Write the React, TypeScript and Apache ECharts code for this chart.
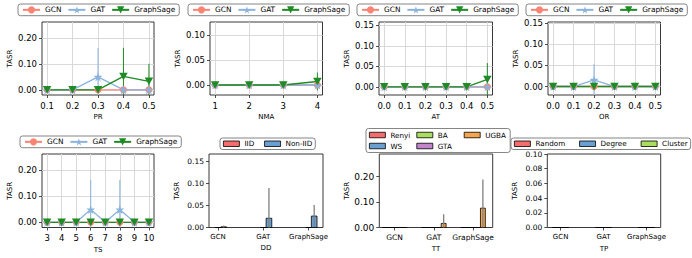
import { useEffect, useRef } from 'react';
import * as echarts from 'echarts';

const FONT = 'DejaVu Sans';
const MODELS = ['GCN', 'GAT', 'GraphSage'];

// ---- line panels data ----
const prX = [0.1, 0.2, 0.3, 0.4, 0.5];
const prGCN = [0, 0, 0, 0, 0];
const prGAT = [0, 0, 0.05, 0, 0];
const prSage = [0, 0, 0, 0.052, 0.033];
const prGCNErr = [0, 0, 0, 0, 0];
const prGATErr = [0, 0, 0.112, 0, 0];
const prSageErr = [0, 0, 0, 0.111, 0.068];
const prYTicks = [0, 0.1, 0.2];

const nmaX = [1, 2, 3, 4];
const nmaGCN = [0, 0, 0, 0];
const nmaGAT = [0, 0, 0, 0];
const nmaSage = [0, 0, 0, 0.007];
const nmaGCNErr = [0, 0, 0, 0];
const nmaGATErr = [0, 0, 0, 0];
const nmaSageErr = [0, 0, 0, 0.018];
const nmaYTicks = [0, 0.05, 0.1];

const atX = [0, 0.1, 0.2, 0.3, 0.4, 0.5];
const atGCN = [0, 0, 0, 0, 0, 0];
const atGAT = [0, 0, 0, 0, 0, 0];
const atSage = [0, 0, 0, 0, 0, 0.018];
const atGCNErr = [0, 0, 0, 0, 0, 0];
const atGATErr = [0, 0, 0, 0, 0, 0];
const atSageErr = [0, 0, 0, 0, 0, 0.04];
const atYTicks = [0, 0.05, 0.1, 0.15];

const orX = [0, 0.1, 0.2, 0.3, 0.4, 0.5];
const orGCN = [0, 0, 0, 0, 0, 0];
const orGAT = [0, 0, 0.0155, 0, 0, 0];
const orSage = [0, 0, 0, 0, 0, 0];
const orGCNErr = [0, 0, 0, 0, 0, 0];
const orGATErr = [0, 0, 0.037, 0, 0, 0];
const orSageErr = [0, 0, 0, 0, 0, 0];
const orYTicks = [0, 0.05, 0.1, 0.15];

const tsX = [3, 4, 5, 6, 7, 8, 9, 10];
const tsGCN = [0, 0, 0, 0, 0, 0, 0, 0];
const tsGAT = [0, 0, 0, 0.049, 0, 0.049, 0, 0];
const tsSage = [0, 0, 0, 0, 0, 0, 0, 0];
const tsGCNErr = [0, 0, 0, 0, 0, 0, 0, 0];
const tsGATErr = [0, 0, 0, 0.114, 0, 0.114, 0, 0];
const tsSageErr = [0, 0, 0, 0, 0, 0, 0, 0];
const tsYTicks = [0, 0.1, 0.2];

// ---- bar panels data ----
const barCats = ['GCN', 'GAT', 'GraphSage'];

const ddTypes = ['IID', 'Non-IID'];
const ddIID = [0, 0, 0];
const ddIIDErr = [0, 0, 0];
const ddNonIID = [0.0015, 0.021, 0.026];
const ddNonIIDErr = [0.003, 0.069, 0.025];
const ddYStep = 0.05;

const ttTypes = ['Renyi', 'WS', 'BA', 'GTA', 'UGBA'];
const ttRenyi = [0, 0, 0];
const ttWS = [0, 0, 0];
const ttBA = [0, 0, 0];
const ttGTA = [0, 0, 0];
const ttUGBA = [0, 0.016, 0.076];
const ttRenyiErr = [0, 0, 0];
const ttWSErr = [0, 0, 0];
const ttBAErr = [0, 0, 0];
const ttGTAErr = [0, 0, 0];
const ttUGBAErr = [0, 0.036, 0.113];
const ttYStep = 0.1;

const tpTypes = ['Random', 'Degree', 'Cluster'];
const tpRandom = [0, 0, 0];
const tpDegree = [0, 0, 0];
const tpCluster = [0, 0, 0];
const tpRandomErr = [0, 0, 0];
const tpDegreeErr = [0, 0, 0];
const tpClusterErr = [0, 0, 0];
const tpYStep = 0.02;

// ---- styles ----
const LINE_COLORS = ['#F98474', '#8AB4DE', '#1F8B24'];
const STAR = 'path://M50,0 L61.8,35.4 L100,35.4 L69.1,57.3 L80.9,94.1 L50,72 L19.1,94.1 L30.9,57.3 L0,35.4 L38.2,35.4 Z';
const TRI_DOWN = 'path://M0,0 L100,0 L50,88 Z';
const SYMBOLS: any[] = ['circle', STAR, TRI_DOWN];
const SYMBOL_SIZES: any[] = [7, 9, [8.5, 7.5]];
const BAR_COLORS: Record<string, string> = {
  IID: '#F26D6B', 'Non-IID': '#6A9FD2',
  Renyi: '#F26D6B', WS: '#6A9FD2', BA: '#A9DC5F', GTA: '#C384CB', UGBA: '#F5A54C',
  Random: '#F26D6B', Degree: '#6A9FD2', Cluster: '#A9DC5F',
};
const SPINE = '#222';
const GRIDLINE = '#d9d9d9';

const linePanels = [
  { xName: 'PR', x: prX, ys: [prGCN, prGAT, prSage], es: [prGCNErr, prGATErr, prSageErr], yTicks: prYTicks, xDec: 1,
    xRange: [0.08, 0.52], yRange: [-0.02, 0.263], grid: { left: 42, top: 22, width: 112, height: 73 }, legend: { left: 18, top: 4 } },
  { xName: 'NMA', x: nmaX, ys: [nmaGCN, nmaGAT, nmaSage], es: [nmaGCNErr, nmaGATErr, nmaSageErr], yTicks: nmaYTicks, xDec: 0,
    xRange: [0.85, 4.15], yRange: [-0.02, 0.126], grid: { left: 210, top: 22, width: 112.5, height: 73 }, legend: { left: 188, top: 4 } },
  { xName: 'AT', x: atX, ys: [atGCN, atGAT, atSage], es: [atGCNErr, atGATErr, atSageErr], yTicks: atYTicks, xDec: 1,
    xRange: [-0.025, 0.525], yRange: [-0.02, 0.1585], grid: { left: 379, top: 22, width: 113.5, height: 73 }, legend: { left: 357, top: 4 } },
  { xName: 'OR', x: orX, ys: [orGCN, orGAT, orSage], es: [orGCNErr, orGATErr, orSageErr], yTicks: orYTicks, xDec: 1,
    xRange: [-0.025, 0.525], yRange: [-0.02, 0.152], grid: { left: 548, top: 22, width: 112.5, height: 73 }, legend: { left: 526, top: 4 } },
  { xName: 'TS', x: tsX, ys: [tsGCN, tsGAT, tsSage], es: [tsGCNErr, tsGATErr, tsSageErr], yTicks: tsYTicks, xDec: 0,
    xRange: [2.65, 10.35], yRange: [-0.02, 0.263], grid: { left: 42, top: 154, width: 112, height: 73.5 }, legend: { left: 20, top: 136 } },
];

// category k of a bar panel sits at x = k + 1 on the value axis
const barPanels = [
  { xName: 'DD', types: ddTypes, ys: [ddIID, ddNonIID], es: [ddIIDErr, ddNonIIDErr], yStep: ddYStep, shift: 0.5,
    xRange: [0.8, 3.32], yRange: [0, 0.167], grid: { left: 209, top: 154, width: 114, height: 73.5 }, nameGap: 17,
    xFont: 7, yFont: 7.5, legend: { left: 220, top: 138, itemGap: 10 } },
  { xName: 'TT', types: ttTypes, ys: [ttRenyi, ttWS, ttBA, ttGTA, ttUGBA], es: [ttRenyiErr, ttWSErr, ttBAErr, ttGTAErr, ttUGBAErr], yStep: ttYStep, shift: 0,
    xRange: [0.61, 3.5], yRange: [0, 0.289], grid: { left: 379.3, top: 154, width: 113.4, height: 73.5 }, nameGap: 18,
    xFont: 7.5, yFont: 9, legend: { left: 366, top: 128.5, itemGap: 4 } },
  { xName: 'TP', types: tpTypes, ys: [tpRandom, tpDegree, tpCluster], es: [tpRandomErr, tpDegreeErr, tpClusterErr], yStep: tpYStep, shift: 0,
    xRange: [0.69, 3.33], yRange: [0, 0.1], grid: { left: 547.3, top: 154, width: 113.4, height: 73.5 }, nameGap: 18,
    xFont: 7, yFont: 7.5, legend: { left: 511, top: 138, itemGap: 14 } },
];

const BAR_W = 0.125;

function yName() {
  return {
    name: 'TASR', nameLocation: 'middle', nameRotate: 90, nameGap: 29,
    nameTextStyle: { fontSize: 7, color: '#000', fontFamily: FONT },
  };
}

function lineYAxis(idx: number, ticks: number[], range: number[]) {
  return {
    type: 'value', gridIndex: idx, min: range[0], max: range[1], position: 'left',
    axisLine: { show: false, onZero: false },
    axisTick: { show: true, length: 3, customValues: ticks, lineStyle: { color: SPINE, width: 0.8 } },
    axisLabel: { show: true, customValues: ticks, formatter: (v: number) => v.toFixed(2), fontSize: 8.5, color: '#000', margin: 5, fontFamily: FONT },
    splitLine: { show: true, lineStyle: { color: GRIDLINE, width: 1 } },
    ...yName(),
  };
}

// bar panels start at 0, so the plain interval ticks (counted from min = 0) are used
function barYAxis(idx: number, step: number, range: number[], font: number) {
  return {
    type: 'value', gridIndex: idx, min: range[0], max: range[1], interval: step, position: 'left',
    axisLine: { show: false, onZero: false },
    axisTick: { show: true, length: 3, lineStyle: { color: SPINE, width: 0.8 } },
    axisLabel: { show: true, showMaxLabel: Math.abs(range[1] / step - Math.round(range[1] / step)) < 1e-6, formatter: (v: number) => v.toFixed(2), fontSize: font, color: '#000', margin: 5, fontFamily: FONT },
    splitLine: { show: false },
    ...yName(),
  };
}

function buildOption() {
  const grid: any[] = [];
  const xAxis: any[] = [];
  const yAxis: any[] = [];
  const series: any[] = [];
  const legend: any[] = [];
  let idx = 0;

  linePanels.forEach((p) => {
    grid.push({ ...p.grid, show: true, borderColor: SPINE, borderWidth: 0.9, backgroundColor: 'transparent' });
    xAxis.push({
      type: 'value', gridIndex: idx, min: p.xRange[0], max: p.xRange[1], position: 'bottom',
      axisLine: { show: false, onZero: false },
      axisTick: { show: true, length: 3, customValues: p.x, lineStyle: { color: SPINE, width: 0.8 } },
      axisLabel: { show: true, customValues: p.x, formatter: (v: number) => v.toFixed(p.xDec), fontSize: 8.5, color: '#000', margin: 6, fontFamily: FONT },
      splitLine: { show: true, lineStyle: { color: GRIDLINE, width: 1 } },
      name: p.xName, nameLocation: 'middle', nameGap: 18.5,
      nameTextStyle: { fontSize: 7, color: '#000', fontFamily: FONT },
    });
    yAxis.push(lineYAxis(idx, p.yTicks, p.yRange));
    const i = idx;
    MODELS.forEach((m, k) => {
      const errData = p.x.map((xv, j) => [xv, p.ys[k][j], p.es[k][j]]).filter((d) => d[2] > 0);
      if (errData.length) {
        series.push({
          type: 'custom', xAxisIndex: i, yAxisIndex: i, silent: true, z: 2,
          encode: { x: 0, y: 1 },
          data: errData,
          renderItem: (params: any, api: any) => {
            const xv = api.value(0), yv = api.value(1), ev = api.value(2);
            const cs = params.coordSys;
            const t = api.coord([xv, yv + ev]);
            const b = api.coord([xv, yv - ev]);
            return {
              type: 'line',
              shape: { x1: t[0], y1: Math.max(cs.y, t[1]), x2: t[0], y2: Math.min(cs.y + cs.height, b[1]) },
              style: { stroke: LINE_COLORS[k], lineWidth: 1 },
            };
          },
        });
      }
    });
    MODELS.forEach((m, k) => {
      series.push({
        type: 'line', name: m, xAxisIndex: i, yAxisIndex: i, z: 3,
        data: p.x.map((xv, j) => [xv, p.ys[k][j]]),
        symbol: SYMBOLS[k], symbolSize: SYMBOL_SIZES[k], showSymbol: true,
        lineStyle: { color: LINE_COLORS[k], width: 1.3 },
        itemStyle: { color: LINE_COLORS[k] },
        clip: false,
      });
    });
    legend.push({
      left: p.legend.left, top: p.legend.top, data: MODELS, orient: 'horizontal', selectedMode: false,
      itemWidth: 17, itemHeight: 9, itemGap: 6, padding: [2.25, 4],
      borderColor: '#666', borderWidth: 0.8, borderRadius: 2.5, backgroundColor: '#fff',
      textStyle: { fontSize: 7.4, color: '#000', fontFamily: FONT },
    });
    idx++;
  });

  barPanels.forEach((p) => {
    grid.push({ ...p.grid, show: true, borderColor: SPINE, borderWidth: 0.9, backgroundColor: 'transparent' });
    const catTicks = barCats.map((_, j) => j + 1);
    xAxis.push({
      type: 'value', gridIndex: idx, min: p.xRange[0], max: p.xRange[1], position: 'bottom',
      axisLine: { show: false, onZero: false },
      axisTick: { show: true, length: 3, customValues: catTicks, lineStyle: { color: SPINE, width: 0.8 } },
      axisLabel: { show: true, customValues: catTicks, formatter: (v: number) => barCats[Math.round(v) - 1], fontSize: p.xFont, color: '#000', margin: 5.5, fontFamily: FONT },
      splitLine: { show: false },
      name: p.xName, nameLocation: 'middle', nameGap: p.nameGap,
      nameTextStyle: { fontSize: 7, color: '#000', fontFamily: FONT },
    });
    yAxis.push(barYAxis(idx, p.yStep, p.yRange, p.yFont));
    const i = idx;
    const n = p.types.length;
    p.types.forEach((t, k) => {
      const offset = (k - (n - 1) / 2 + p.shift) * BAR_W;
      const color = BAR_COLORS[t];
      series.push({
        type: 'custom', name: t, xAxisIndex: i, yAxisIndex: i, z: 2,
        itemStyle: { color },
        encode: { x: 0, y: 1 },
        data: barCats.map((_, j) => [j + 1, p.ys[k][j], p.es[k][j]]),
        renderItem: (params: any, api: any) => {
          const cx = api.value(0), v = api.value(1), e = api.value(2);
          const cs = params.coordSys;
          const p0 = api.coord([cx + offset - BAR_W / 2, 0]);
          const p1 = api.coord([cx + offset + BAR_W / 2, v]);
          const children: any[] = [{
            type: 'rect',
            shape: { x: p0[0], y: p1[1], width: p1[0] - p0[0], height: p0[1] - p1[1] },
            style: { fill: color, stroke: '#000', lineWidth: 0.8 },
          }];
          if (e > 0) {
            const tt = api.coord([cx + offset, v + e]);
            const bb = api.coord([cx + offset, v - e]);
            children.push({
              type: 'line',
              shape: { x1: tt[0], y1: Math.max(cs.y, tt[1]), x2: tt[0], y2: Math.min(cs.y + cs.height, bb[1]) },
              style: { stroke: '#808080', lineWidth: 1.3 },
            });
          }
          return { type: 'group', children };
        },
      });
    });
    const isTT = p.xName === 'TT';
    const order = isTT ? ['Renyi', 'BA', 'UGBA', 'WS', 'GTA'] : p.types;
    legend.push({
      left: p.legend.left, top: p.legend.top, orient: 'horizontal', selectedMode: false,
      width: isTT ? 140 : 200,
      data: order.map((t) => ({ name: t, icon: 'rect', itemStyle: { color: BAR_COLORS[t], borderColor: '#000', borderWidth: 0.8 } })),
      itemWidth: 16, itemHeight: 5.5, itemGap: p.legend.itemGap, padding: isTT ? [3, 3] : [2.25, 3],
      borderColor: '#666', borderWidth: 0.8, borderRadius: 2.5, backgroundColor: '#fff',
      formatter: isTT ? '{a|{name}}' : '{name}',
      textStyle: isTT
        ? { fontSize: 7.2, color: '#000', fontFamily: FONT, lineHeight: 5, rich: { a: { width: 22, fontSize: 7.2, lineHeight: 5, fontFamily: FONT, color: '#000' } } }
        : { fontSize: 7.2, color: '#000', fontFamily: FONT },
    });
    idx++;
  });

  return {
    animation: false,
    backgroundColor: '#fff',
    textStyle: { fontFamily: FONT },
    grid, xAxis, yAxis, series, legend,
  };
}

export default function App() {
  const ref = useRef<HTMLDivElement>(null);
  useEffect(() => {
    if (!ref.current) return;
    const chart = echarts.init(ref.current, null, { renderer: 'svg' });
    chart.setOption(buildOption() as any);
    return () => chart.dispose();
  }, []);
  return <div ref={ref} style={{ position: 'absolute', left: 0, top: 0, width: 692, height: 258 }} />;
}
